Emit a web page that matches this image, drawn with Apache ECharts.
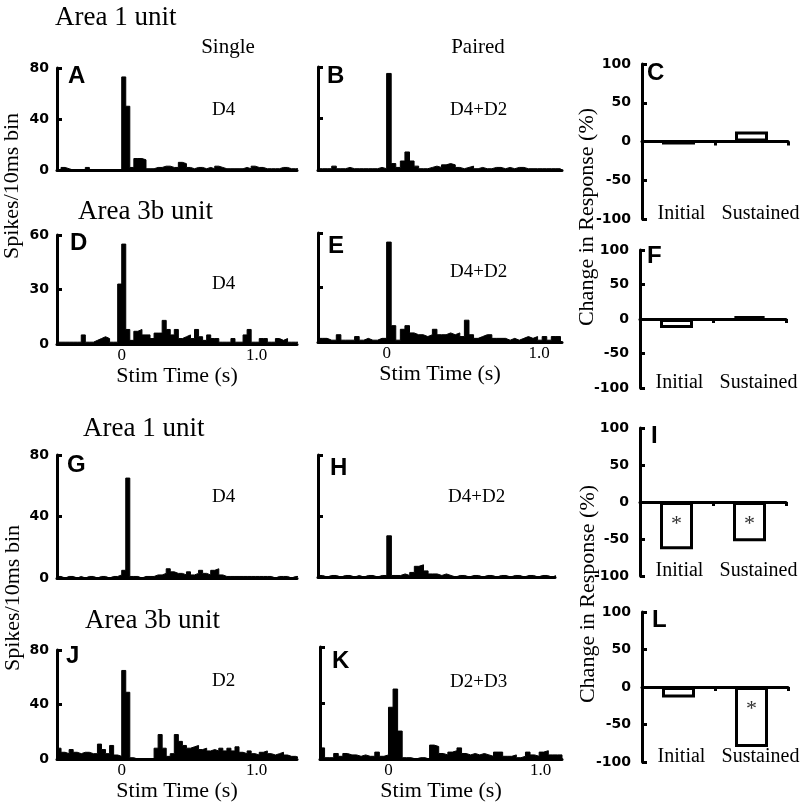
<!DOCTYPE html>
<html>
<head>
<meta charset="utf-8">
<script src="https://cdn.jsdelivr.net/npm/echarts@6/dist/echarts.min.js"></script>
<style>
html,body{margin:0;padding:0;background:#fff;}
#chart{width:810px;height:803px;}
</style>
</head>
<body>
<div id="chart"></div>
<script>
// ---------- DATA ----------
const binWidth = 0.03;            // s per plotted bin
const singleBinStart = -0.48;     // first bin start, "Single" column (s)
const pairedBinStart = -0.45;     // first bin start, "Paired" column (s)

// Area 1 unit, D4 (Single)
const countsA = [0,2,1,0,0,0,0,2,0,0, 0,0,0,0,0,0,73,50,2,9, 9,8,1,1,2,2,3,3,2,2, 6,5,2,1,2,2,1,2,1,3, 2,1,1,1,1,1,2,1,3,2, 2,1,1,1,1,2,2,1,1,1];
// Area 1 unit, D4+D2 (Paired)
const countsB = [1,1,1,3,1,1,2,1,1,1, 1,1,1,2,1,75,5,2,7,14, 7,3,1,1,2,3,2,4,5,4, 2,1,2,3,1,2,1,1,2,2, 1,2,1,2,2,1,1,1,1,1, 1,1,1];
// Area 3b unit, D4 (Single)
const countsD = [1,1,1,1,1,1,5,1,1,2, 3,4,3,1,1,33,55,8,2,7, 8,5,5,3,6,6,13,8,5,8, 3,4,5,3,8,4,2,5,3,3, 1,1,1,3,1,1,5,8,1,1, 3,3,1,1,3,2,3,1,1,1];
// Area 3b unit, D4+D2 (Paired)
const countsE = [2,2,1,1,4,1,1,1,3,1, 2,1,1,2,2,55,9,1,7,9, 5,4,4,3,4,7,4,4,5,4, 5,3,12,4,2,3,4,4,2,2, 2,1,2,1,2,3,2,3,1,3, 1,3,3];
// Area 1 unit, D4 (Single)
const countsG = [1,0,1,1,0,1,0,1,1,0, 1,1,0,1,1,2,5,65,1,1, 0,1,1,1,2,2,3,6,4,3, 3,2,4,2,3,5,3,2,5,6, 2,1,1,1,1,1,1,1,1,1, 1,1,1,0,1,1,1,0,1,1];
// Area 1 unit, D4+D2 (Paired)
const countsH = [1,0,1,1,0,1,1,0,1,0, 1,1,0,1,1,27,1,1,2,1, 3,7,8,4,2,2,1,2,1,0, 1,1,0,1,1,0,1,1,0,1, 1,0,1,1,0,1,1,0,1,1, 0,1,1];
// Area 3b unit, D2 (Single)
const countsJ = [8,5,4,7,5,4,5,5,4,4, 11,7,4,10,3,2,65,49,1,0, 0,0,0,0,8,18,8,2,4,18, 13,10,8,9,10,7,8,6,7,6, 8,6,8,6,9,5,4,6,4,3, 5,6,4,3,4,5,3,2,2,1];
// Area 3b unit, D2+D3 (Paired)
const countsK = [8,1,1,4,2,4,3,3,2,3, 2,2,5,2,3,37,50,20,1,1, 0,1,1,0,10,9,4,3,5,6, 8,4,3,4,3,4,3,2,5,5, 2,2,3,1,2,5,3,2,5,6, 3,3,3];

const timeTickValues = [0, 1.0];
const timeTickLabels = ['0', '1.0'];

const barCategories = ['Initial', 'Sustained'];
const changeC = [-4, 13];
const changeF = [-13, 4];
const changeI = [-64, -53];
const changeL = [-14, -80];
const filledC = [true, false];
const filledF = [false, true];
const filledI = [false, false];
const filledL = [false, false];
const signifC = [false, false];
const signifF = [false, false];
const signifI = [true, true];
const signifL = [false, true];

// ---------- LAYOUT ----------
const SERIF = '"Liberation Serif", "Times New Roman", serif';
const SANS = '"Liberation Sans", Arial, sans-serif';
const TICKFONT = '"DejaVu Sans", sans-serif';

const histPanels = [
  {counts: countsA, start: singleBinStart, left: 57,  top: 68,  width: 240, height: 102, xMin: -0.48, xMax: 1.30, yMax: 80, yLabels: true,  xLabels: false},
  {counts: countsB, start: pairedBinStart, left: 318, top: 67,  width: 244, height: 103, xMin: -0.45, xMax: 1.15, yMax: 80, yLabels: false, xLabels: false},
  {counts: countsD, start: singleBinStart, left: 57,  top: 235, width: 240, height: 109, xMin: -0.48, xMax: 1.30, yMax: 60, yLabels: true,  xLabels: true, nameGap: 18},
  {counts: countsE, start: pairedBinStart, left: 318, top: 233, width: 244, height: 109, xMin: -0.45, xMax: 1.15, yMax: 60, yLabels: false, xLabels: true, nameGap: 18},
  {counts: countsG, start: singleBinStart, left: 57,  top: 455, width: 240, height: 123, xMin: -0.48, xMax: 1.30, yMax: 80, yLabels: true,  xLabels: false},
  {counts: countsH, start: pairedBinStart, left: 318, top: 455, width: 237, height: 122, xMin: -0.45, xMax: 1.10, yMax: 80, yLabels: false, xLabels: false},
  {counts: countsJ, start: singleBinStart, left: 57,  top: 650, width: 240, height: 113, xMin: -0.48, xMax: 1.30, yMax: 80, yLabels: true,  xLabels: true, nameGap: 14},
  {counts: countsK, start: pairedBinStart, left: 320, top: 647, width: 242, height: 115, xMin: -0.45, xMax: 1.14, yMax: 80, yLabels: false, xLabels: true, nameGap: 15}
];

const barPanels = [
  {values: changeC, filled: filledC, signif: signifC, left: 642, top: 64,  width: 146, height: 155},
  {values: changeF, filled: filledF, signif: signifF, left: 640, top: 250, width: 146, height: 138},
  {values: changeI, filled: filledI, signif: signifI, left: 640, top: 428, width: 146, height: 148},
  {values: changeL, filled: filledL, signif: signifL, left: 642, top: 612, width: 146, height: 150}
];

function binsToPoints(start, counts) {
  const pts = counts.map((c, i) => [+(start + i * binWidth).toFixed(3), c]);
  pts.push([+(start + counts.length * binWidth).toFixed(3), 0]);
  return pts;
}

const grid = [], xAxis = [], yAxis = [], series = [];

histPanels.forEach((p, k) => {
  grid.push({left: p.left, top: p.top, width: p.width, height: p.height, containLabel: false});
  xAxis.push({
    type: 'value', gridIndex: k, min: p.xMin, max: p.xMax,
    axisLine: {show: true, onZero: false, lineStyle: {color: '#000', width: 3}},
    axisTick: {show: false}, splitLine: {show: false},
    axisLabel: {
      show: p.xLabels, customValues: timeTickValues,
      formatter: v => timeTickLabels[timeTickValues.indexOf(v)] ?? '',
      color: '#000', fontFamily: SERIF, fontSize: 17, margin: 3
    },
    name: p.xLabels ? 'Stim Time (s)' : '', nameLocation: 'middle', nameGap: p.nameGap || 18,
    nameTextStyle: {color: '#000', fontFamily: SERIF, fontSize: 22}
  });
  yAxis.push({
    type: 'value', gridIndex: k, min: 0, max: p.yMax, interval: p.yMax / 2,
    axisLine: {show: true, onZero: false, lineStyle: {color: '#000', width: 3}},
    axisTick: {show: true, inside: true, length: 5, lineStyle: {color: '#000', width: 3}},
    splitLine: {show: false},
    axisLabel: {show: p.yLabels, color: '#000', fontFamily: TICKFONT, fontWeight: 'bold', fontSize: 14, margin: 8}
  });
  series.push({
    type: 'line', xAxisIndex: k, yAxisIndex: k, step: 'end', symbol: 'none',
    data: binsToPoints(p.start, p.counts),
    lineStyle: {color: '#000', width: 1}, areaStyle: {color: '#000', opacity: 1},
    silent: true, animation: false
  });
});

const catLabelRich = {
  i: {fontFamily: SERIF, fontSize: 20, color: '#000', padding: [0, 0, 0, 6]},
  s: {fontFamily: SERIF, fontSize: 20, color: '#000', padding: [0, 0, 0, 18]}
};

barPanels.forEach((p, j) => {
  const g = grid.length;
  grid.push({left: p.left, top: p.top, width: p.width, height: p.height, containLabel: false});
  const xa = xAxis.length;
  xAxis.push({
    type: 'category', gridIndex: g, data: barCategories,
    axisLine: {show: true, onZero: true, lineStyle: {color: '#000', width: 3}},
    axisTick: {show: true, length: 4, lineStyle: {color: '#000', width: 3}},
    axisLabel: {show: false}, splitLine: {show: false}
  });
  xAxis.push({
    type: 'category', gridIndex: g, data: barCategories, position: 'bottom',
    axisLine: {show: false, onZero: false}, axisTick: {show: false}, splitLine: {show: false},
    axisLabel: {
      show: true, interval: 0, hideOverlap: false, color: '#000', fontFamily: SERIF, fontSize: 20, margin: -15,
      formatter: (v, idx) => (idx === 0 ? '{i|' : '{s|') + v + '}', rich: catLabelRich
    }
  });
  const ya = yAxis.length;
  yAxis.push({
    type: 'value', gridIndex: g, min: -100, max: 100, interval: 50,
    axisLine: {show: true, onZero: false, lineStyle: {color: '#000', width: 3}},
    axisTick: {show: true, inside: true, length: 5, lineStyle: {color: '#000', width: 3}},
    splitLine: {show: false},
    axisLabel: {color: '#000', fontFamily: TICKFONT, fontWeight: 'bold', fontSize: 14, margin: 11}
  });
  series.push({
    type: 'bar', xAxisIndex: xa, yAxisIndex: ya, barWidth: 33,
    data: p.values.map((v, i) => ({
      value: v,
      itemStyle: {color: p.filled[i] ? '#000' : '#fff', borderColor: '#000', borderWidth: 3},
      label: {show: p.signif[i], formatter: '*', position: 'insideTop', distance: 11,
              color: '#333', fontFamily: SERIF, fontSize: 22}
    })),
    silent: true, animation: false
  });
});

function txt(text, x, y, size, o = {}) {
  return {
    type: 'text', x: x, y: y, rotation: o.rot || 0, silent: true,
    style: {
      text: text, fill: '#000',
      font: (o.bold ? 'bold ' : '') + size + 'px ' + (o.family || SERIF),
      textAlign: o.align || 'left', textVerticalAlign: o.valign || 'middle'
    }
  };
}

const graphic = [
  txt('Area 1 unit', 55, 18, 27),
  txt('Single', 228, 47, 21, {align: 'center'}),
  txt('Paired', 478, 47, 21, {align: 'center'}),
  txt('Area 3b unit', 78, 212, 27),
  txt('Area 1 unit', 83, 429, 27),
  txt('Area 3b unit', 85, 621, 27),
  // panel letters
  txt('A', 68, 64, 24, {bold: true, family: SANS, valign: 'top'}),
  txt('B', 327, 64, 24, {bold: true, family: SANS, valign: 'top'}),
  txt('C', 647, 61, 24, {bold: true, family: SANS, valign: 'top'}),
  txt('D', 70, 231, 24, {bold: true, family: SANS, valign: 'top'}),
  txt('E', 328, 234, 24, {bold: true, family: SANS, valign: 'top'}),
  txt('F', 647, 244, 24, {bold: true, family: SANS, valign: 'top'}),
  txt('G', 67, 453, 24, {bold: true, family: SANS, valign: 'top'}),
  txt('H', 330, 456, 24, {bold: true, family: SANS, valign: 'top'}),
  txt('I', 651, 424, 24, {bold: true, family: SANS, valign: 'top'}),
  txt('J', 66, 644, 24, {bold: true, family: SANS, valign: 'top'}),
  txt('K', 332, 649, 24, {bold: true, family: SANS, valign: 'top'}),
  txt('L', 652, 608, 24, {bold: true, family: SANS, valign: 'top'}),
  // stimulus labels
  txt('D4', 212, 110, 19),
  txt('D4+D2', 450, 110, 19),
  txt('D4', 212, 284, 19),
  txt('D4+D2', 450, 272, 19),
  txt('D4', 212, 497, 19),
  txt('D4+D2', 448, 497, 19),
  txt('D2', 212, 681, 19),
  txt('D2+D3', 450, 682, 19),
  // rotated axis titles
  txt('Spikes/10ms bin', 12, 186, 22, {rot: Math.PI / 2, align: 'center'}),
  txt('Spikes/10ms bin', 13, 598, 22, {rot: Math.PI / 2, align: 'center'}),
  txt('Change in Response (%)', 587, 217, 22, {rot: Math.PI / 2, align: 'center'}),
  txt('Change in Response (%)', 588, 594, 22, {rot: Math.PI / 2, align: 'center'})
];

const chart = echarts.init(document.getElementById('chart'), null, {renderer: 'canvas'});
chart.setOption({
  backgroundColor: '#fff',
  animation: false,
  grid: grid, xAxis: xAxis, yAxis: yAxis, series: series,
  graphic: graphic
});
</script>
</body>
</html>
